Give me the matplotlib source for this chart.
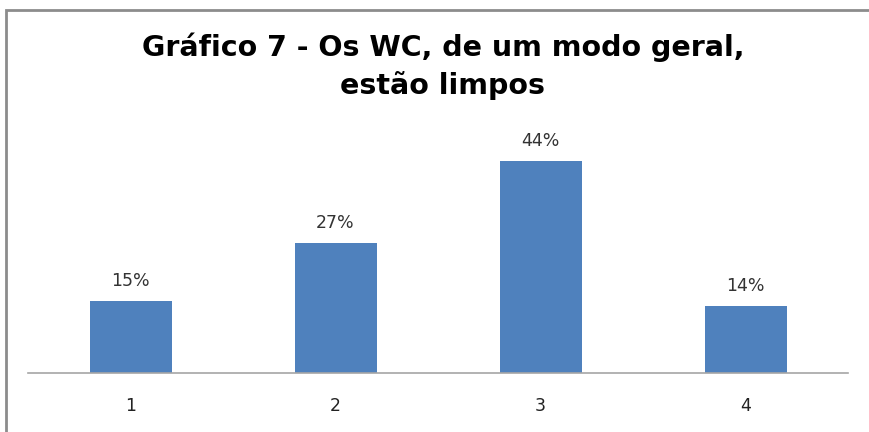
import matplotlib
matplotlib.use("Agg")
import matplotlib.pyplot as plt
from matplotlib.patches import Rectangle

categories = ["1", "2", "3", "4"]
values = [15, 27, 44, 14]
value_labels = ["15%", "27%", "44%", "14%"]
title = "Gráfico 7 - Os WC, de um modo geral,\nestão limpos"

W, H = 869, 432
fig = plt.figure(figsize=(W / 100, H / 100), dpi=100)

# frame of the chart area (left and top edges visible)
fig.patches.append(Rectangle((6 / W, -0.05), 1.2, (H - 10) / H + 0.05, transform=fig.transFigure,
                             fill=False, edgecolor="#8c8c8c", linewidth=2.0))

ax = fig.add_axes([28 / W, (H - 373) / H, (848 - 28) / W, (373 - 132) / H])
x = range(len(categories))
ax.bar(x, values, width=0.4, color="#4F81BD")
ax.set_xlim(-0.5, 3.5)
ax.set_ylim(0, 50)

for xi, v, lab in zip(x, values, value_labels):
    ax.annotate(lab, (xi, v), xytext=(0, 14), textcoords="offset points",
                ha="center", va="center", fontsize=12.5, color="#333333", family="DejaVu Sans")

ax.set_xticks(list(x))
ax.set_xticklabels(categories, fontsize=12.5, color="#222222", family="DejaVu Sans")
ax.tick_params(axis="x", length=0, pad=17)
ax.set_yticks([])
for s in ["top", "right", "left"]:
    ax.spines[s].set_visible(False)
ax.spines["bottom"].set_color("#a6a6a6")
ax.spines["bottom"].set_linewidth(1.2)

fig.text(443 / W, 1 - 66 / H, title, ha="center", va="center", fontsize=20.5,
         fontweight="bold", family="DejaVu Sans", linespacing=1.4)

fig.savefig("out.png", dpi=100)
